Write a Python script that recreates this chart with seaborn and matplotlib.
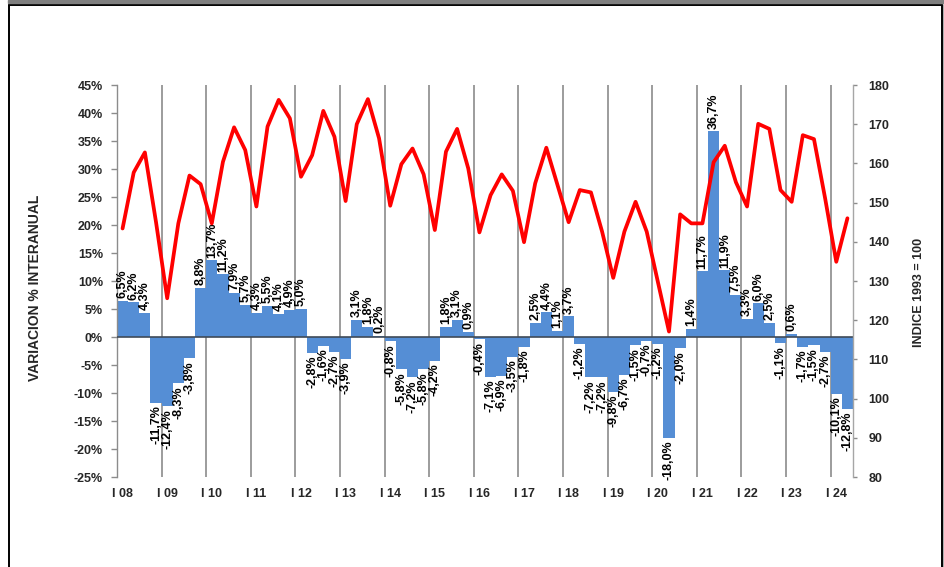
import numpy as np
import matplotlib
matplotlib.use("Agg")
import matplotlib.pyplot as plt
from matplotlib.lines import Line2D
from matplotlib.patches import Rectangle
import seaborn as sns

# Year labels (one per year, placed under the first quarter)
years = ["I 08", "I 09", "I 10", "I 11", "I 12", "I 13", "I 14", "I 15", "I 16",
         "I 17", "I 18", "I 19", "I 20", "I 21", "I 22", "I 23", "I 24"]

# Quarterly year-on-year change (%), 2008 Q1 .. 2024 Q2
variacion = [6.5, 6.2, 4.3, -11.7,
             -12.4, -8.3, -3.8, 8.8,
             13.7, 11.2, 7.9, 5.7,
             4.3, 5.5, 4.1, 4.9,
             5.0, -2.8, -1.6, -2.7,
             -3.9, 3.1, 1.8, 0.2,
             -0.8, -5.8, -7.2, -5.8,
             -4.2, 1.8, 3.1, 0.9,
             -0.4, -7.1, -6.9, -3.5,
             -1.8, 2.5, 4.4, 1.1,
             3.7, -1.2, -7.2, -7.2,
             -9.8, -6.7, -1.5, -0.7,
             -1.2, -18.0, -2.0, 1.4,
             11.7, 36.7, 11.9, 7.5,
             3.3, 6.0, 2.5, -1.1,
             0.6, -1.7, -1.5, -2.7,
             -10.1, -12.8]

# Quarterly index (1993 = 100)
indice = [143.4, 157.7, 162.8, 145.0, 125.6, 144.7, 156.9, 154.7,
          144.7, 160.4, 169.2, 163.4, 149.0, 169.4, 176.2, 171.5,
          156.6, 162.1, 173.4, 166.8, 150.4, 170.0, 176.4, 166.4,
          149.2, 159.8, 163.8, 157.2, 143.0, 163.0, 168.8, 158.7,
          142.4, 151.9, 157.2, 153.0, 139.9, 154.9, 164.0, 154.5,
          145.0, 153.2, 152.6, 142.6, 130.8, 142.6, 150.2, 142.6,
          129.8, 117.1, 147.0, 144.7, 144.7, 160.3, 164.5, 155.2,
          149.0, 170.1, 168.8, 153.2, 150.2, 167.2, 166.2, 151.1,
          134.9, 146.0]

sns.set_style("white")
plt.rcParams["font.family"] = ["Liberation Sans", "DejaVu Sans"]
plt.rcParams["font.weight"] = "bold"

W, H = 945, 567
fig = plt.figure(figsize=(W / 100, H / 100), dpi=100)
ax = fig.add_axes([117 / W, 1 - 477 / H, (853 - 117) / W, (477 - 85) / H])

pos = np.arange(len(variacion))

# year separators behind the bars
for k in range(1, len(years)):
    ax.axvline(4 * k - 0.5, color="#9C9C9C", lw=1.4, zorder=0)

sns.barplot(x=pos, y=variacion, order=list(pos), ax=ax, color="#558ED5",
            saturation=1, width=1.0, edgecolor="none", zorder=2)
ax.axhline(0, color="#3F4A57", lw=1.2, zorder=3)

for i, v in zip(pos, variacion):
    txt = f"{v:.1f}".replace(".", ",") + "%"
    ax.annotate(txt, (i, v), xytext=(0, 2 if v >= 0 else -2),
                textcoords="offset points", rotation=90, ha="center",
                va="bottom" if v >= 0 else "top", fontsize=9,
                fontweight="bold", color="black", zorder=4)

ax.set_xlim(-0.5, len(variacion) - 0.5)
ax.set_ylim(-25, 45)
ax.set_yticks(np.arange(-25, 46, 5))
ax.set_yticklabels([f"{t}%" for t in range(-25, 46, 5)])
ax.set_xticks(np.arange(0, len(variacion), 4))
ax.set_xticklabels(years)
ax.set_xlabel("")
ax.set_ylabel("")
ax.tick_params(axis="x", length=0, pad=8, labelsize=9)
ax.tick_params(axis="y", length=4, width=1, color="#8C8C8C", pad=6,
               labelsize=9, direction="out")
for s in ["top", "bottom", "right"]:
    ax.spines[s].set_visible(False)
ax.spines["left"].set_color("#8C8C8C")
ax.spines["left"].set_linewidth(1)

ax2 = ax.twinx()
sns.lineplot(x=pos, y=indice, ax=ax2, color="#FF0000", lw=2.7, zorder=5)
ax2.set_ylim(80, 180)
ax2.set_yticks(np.arange(80, 181, 10))
ax2.set_ylabel("")
ax2.set_xlim(-0.5, len(variacion) - 0.5)
ax2.tick_params(axis="y", length=3, width=1, color="#8C8C8C", pad=8,
                labelsize=9, direction="out")
for s in ["top", "bottom", "left"]:
    ax2.spines[s].set_visible(False)
ax2.spines["right"].set_color("#A6A6A6")
ax2.spines["right"].set_linewidth(1)
for lbl in ax.get_xticklabels() + ax.get_yticklabels() + ax2.get_yticklabels():
    lbl.set_fontweight("bold")

fig.text(35 / W, 1 - 288 / H, "VARIACION % INTERANUAL", rotation=90,
         ha="center", va="center", fontsize=10, fontweight="bold")
fig.text(919 / W, 1 - 292 / H, "INDICE 1993 = 100", rotation=90,
         ha="center", va="center", fontsize=9, fontweight="bold")

# page frame
fig.patches.append(Rectangle((8 / W, 1 - 2.5 / H), 1, 2.5 / H,
                             transform=fig.transFigure, color="#7F7F7F",
                             zorder=10))
frame_kw = dict(transform=fig.transFigure, color="black", lw=1.4, zorder=10)
fig.lines.append(Line2D([9 / W, 9 / W], [0, 1 - 5 / H], **frame_kw))
fig.lines.append(Line2D([9 / W, 942 / W], [1 - 5 / H, 1 - 5 / H], **frame_kw))
fig.lines.append(Line2D([942 / W, 942 / W], [0, 1 - 5 / H], **frame_kw))
fig.lines.append(Line2D([944 / W, 944 / W], [0, 1 - 5 / H],
                        transform=fig.transFigure, color="#A0A0A0", lw=1.2))

fig.savefig("out.png", dpi=100, facecolor="white")
